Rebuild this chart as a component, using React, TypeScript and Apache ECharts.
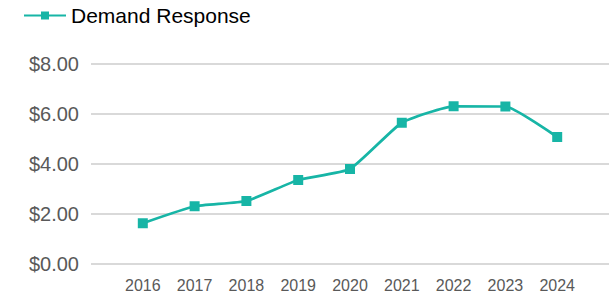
import React, { useEffect, useRef } from "react";
import * as echarts from "echarts";

const categories = ["", "2016", "2017", "2018", "2019", "2020", "2021", "2022", "2023", "2024", ""];
const demandResponse: (number | null)[] = [null, 1.63, 2.31, 2.52, 3.36, 3.8, 5.65, 6.31, 6.3, 5.08, null];
const seriesName = "Demand Response";

export default function App() {
  const ref = useRef<HTMLDivElement>(null);
  useEffect(() => {
    if (!ref.current) return;
    const chart = echarts.init(ref.current, null, { renderer: "svg" });
    chart.setOption({
      animation: false,
      textStyle: { fontFamily: "Liberation Sans, Arial, sans-serif" },
      legend: {
        left: 18,
        top: 0,
        itemWidth: 42,
        itemHeight: 10,
        itemGap: 10,
        textStyle: { fontSize: 21, color: "#000", fontFamily: "Liberation Sans, Arial, sans-serif" },
        data: [{ name: seriesName }],
      },
      grid: { left: 91, right: 4, top: 64, bottom: 34, containLabel: false },
      xAxis: {
        type: "category",
        data: categories,
        boundaryGap: false,
        axisLine: { show: false },
        axisTick: { show: false },
        axisLabel: { fontSize: 16, color: "#595959", margin: 13 },
        splitLine: { show: false },
      },
      yAxis: {
        type: "value",
        min: 0,
        max: 8,
        interval: 2,
        axisLine: { show: false },
        axisTick: { show: false },
        axisLabel: {
          fontSize: 20,
          color: "#595959",
          margin: 12,
          formatter: (v: number) => "$" + v.toFixed(2),
        },
        splitLine: { lineStyle: { color: "#d9d9d9", width: 2 } },
      },
      series: [
        {
          name: seriesName,
          type: "line",
          data: demandResponse,
          smooth: 0.15,
          symbol: "rect",
          symbolSize: 10,
          connectNulls: false,
          lineStyle: { color: "#17B5A6", width: 2.75 },
          itemStyle: { color: "#17B5A6" },
        },
      ],
    });
    return () => chart.dispose();
  }, []);
  return <div ref={ref} style={{ width: 613, height: 298, position: "absolute", left: 0, top: 0 }} />;
}
